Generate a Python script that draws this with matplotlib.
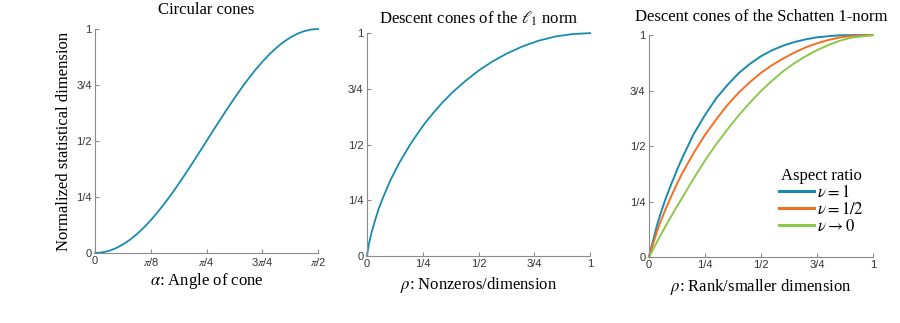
import numpy as np
import matplotlib
matplotlib.use("Agg")
import matplotlib.pyplot as plt

# values

# circular cones: angle (radians) vs normalized statistical dimension
circ_alpha = [0, 0.0491, 0.0982, 0.1473, 0.1963, 0.2454, 0.2945, 0.3436, 0.3927,
              0.4418, 0.4909, 0.5400, 0.5890, 0.6381, 0.6872, 0.7363, 0.7854,
              0.8345, 0.8836, 0.9327, 0.9817, 1.0308, 1.0799, 1.1290, 1.1781,
              1.2272, 1.2763, 1.3254, 1.3744, 1.4235, 1.4726, 1.5217, 1.5708]
circ_delta = [0, 0.0024, 0.0096, 0.0215, 0.0381, 0.0590, 0.0843, 0.1135, 0.1464,
              0.1828, 0.2222, 0.2643, 0.3087, 0.3549, 0.4025, 0.4510, 0.5,
              0.5490, 0.5975, 0.6451, 0.6913, 0.7357, 0.7778, 0.8172, 0.8536,
              0.8865, 0.9157, 0.9410, 0.9619, 0.9785, 0.9904, 0.9976, 1.0]
circ_ticks = [0, 0.3927, 0.7854, 1.1781, 1.5708]
circ_ticklabels = ["0", r"$\pi$/8", r"$\pi$/4", r"3$\pi$/4", r"$\pi$/2"]

# l1 norm descent cones
l1_rho = [0, 0.0016, 0.0084, 0.018, 0.038, 0.053, 0.075, 0.104, 0.143, 0.194,
          0.225, 0.259, 0.298, 0.341, 0.389, 0.442, 0.499, 0.561, 0.626, 0.696,
          0.769, 0.845, 0.922, 1.0]
l1_delta = [0, 0.014, 0.054, 0.097, 0.166, 0.214, 0.270, 0.338, 0.415, 0.501,
            0.547, 0.595, 0.643, 0.692, 0.740, 0.786, 0.831, 0.872, 0.908, 0.940,
            0.966, 0.985, 0.996, 1.0]

# schatten 1-norm descent cones, three aspect ratios
s1_rho = [0, 0.01, 0.02, 0.035, 0.05, 0.075, 0.1, 0.125, 0.15, 0.2, 0.25, 0.3,
          0.35, 0.4, 0.45, 0.5, 0.55, 0.6, 0.65, 0.7, 0.75, 0.8, 0.85, 0.9, 1.0]
s1_nu1 = [0, 0.042, 0.08, 0.14, 0.19, 0.265, 0.33, 0.392, 0.45, 0.555, 0.64, 0.715,
          0.775, 0.828, 0.87, 0.905, 0.932, 0.953, 0.969, 0.981, 0.99, 0.995,
          0.999, 1.0, 1.0]
s1_nu_half = [0, 0.034, 0.065, 0.112, 0.155, 0.218, 0.275, 0.33, 0.38, 0.47, 0.55,
              0.62, 0.685, 0.74, 0.788, 0.83, 0.865, 0.895, 0.922, 0.945, 0.963,
              0.978, 0.989, 0.996, 1.0]
s1_nu0 = [0, 0.019, 0.038, 0.067, 0.095, 0.141, 0.185, 0.228, 0.27, 0.355, 0.435,
          0.508, 0.575, 0.638, 0.695, 0.748, 0.795, 0.838, 0.874, 0.905, 0.932,
          0.955, 0.974, 0.988, 1.0]
s1_labels = [r"$\nu = 1$", r"$\nu = 1/2$", r"$\nu \to 0$"]

frac_ticks = [0, 0.25, 0.5, 0.75, 1]
frac_labels = ["0", "1/4", "1/2", "3/4", "1"]

BLUE = "#1a8bb0"
ORANGE = "#f36f21"
GREEN = "#8cc84b"
SERIF = "Liberation Serif"
SANS = "Liberation Sans"
FS = 12

plt.rcParams["mathtext.fontset"] = "stix"


def style(ax):
    for s in ["top", "right"]:
        ax.spines[s].set_visible(False)
    for s in ["left", "bottom"]:
        ax.spines[s].set_color("#8a8a8a")
        ax.spines[s].set_linewidth(0.8)
    ax.tick_params(direction="in", length=3, width=0.8, color="#8a8a8a",
                   labelsize=8, labelcolor="#333333", pad=2.5)
    ax.set_ylim(0, 1)
    ax.set_yticks(frac_ticks)
    ax.set_yticklabels(frac_labels)
    for lab in ax.get_xticklabels() + ax.get_yticklabels():
        lab.set_family(SANS)


fig = plt.figure(figsize=(9, 3.23), dpi=100)

# panel 1
ax1 = fig.add_axes([0.1056, 0.2167, 0.2478, 0.6935])
ax1.plot(circ_alpha, circ_delta, color=BLUE, lw=1.3, clip_on=False)
ax1.set_xlim(0, circ_alpha[-1])
ax1.set_xticks(circ_ticks)
ax1.set_xticklabels(circ_ticklabels)
style(ax1)
ax1.set_title("Circular cones", family=SERIF, fontsize=FS, pad=11)
ax1.set_xlabel(r"$\alpha$: Angle of cone", family=SERIF, fontsize=FS, labelpad=2)
ax1.set_ylabel("Normalized statistical dimension", family=SERIF, fontsize=FS, labelpad=3)

# panel 2
ax2 = fig.add_axes([0.4078, 0.2074, 0.2478, 0.690])
ax2.plot(l1_rho, l1_delta, color=BLUE, lw=1.3, clip_on=False)
ax2.set_xlim(0, 1)
ax2.set_xticks(frac_ticks)
ax2.set_xticklabels(frac_labels)
style(ax2)
ax2.set_title(r"Descent cones of the $\ell_1$ norm", family=SERIF, fontsize=FS, pad=7)
ax2.set_xlabel(r"$\rho$: Nonzeros/dimension", family=SERIF, fontsize=FS, labelpad=4)

# panel 3
ax3 = fig.add_axes([0.7211, 0.2043, 0.2489, 0.687])
for vals, col, lab in zip([s1_nu1, s1_nu_half, s1_nu0], [BLUE, ORANGE, GREEN], s1_labels):
    ax3.plot(s1_rho, vals, color=col, lw=1.4, label=lab, clip_on=False)
ax3.set_xlim(0, 1)
ax3.set_xticks(frac_ticks)
ax3.set_xticklabels(frac_labels)
style(ax3)
ax3.set_title("Descent cones of the Schatten 1-norm", family=SERIF, fontsize=FS, pad=10)
ax3.set_xlabel(r"$\rho$: Rank/smaller dimension", family=SERIF, fontsize=FS, labelpad=5)
leg = ax3.legend(loc="upper right", bbox_to_anchor=(0.96, 0.40), frameon=False,
                 prop={"family": SERIF, "size": FS}, title="Aspect ratio",
                 title_fontproperties={"family": SERIF, "size": FS},
                 handlelength=2.1, handletextpad=0.2, labelspacing=0.05,
                 borderpad=0, borderaxespad=0)
for h in leg.get_lines():
    h.set_linewidth(2.2)

fig.savefig("out.png", dpi=100)
